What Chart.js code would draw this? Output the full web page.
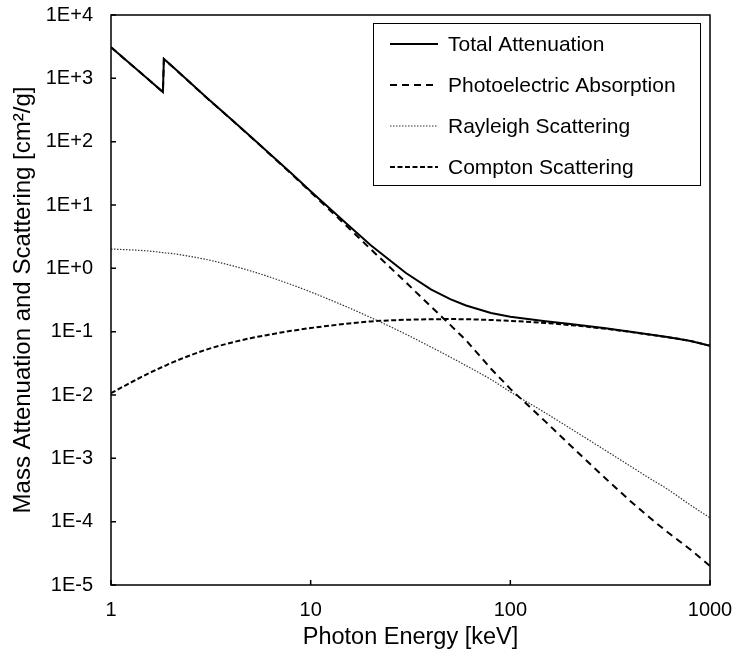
<!DOCTYPE html>
<html lang="en">
<head>
<meta charset="UTF-8">
<title>Mass Attenuation and Scattering</title>
<script src="https://cdn.jsdelivr.net/npm/chart.js@4"></script>
<style>
  body { margin: 0; background: #fff; }
  #chartBox { width: 736px; height: 659px; }
</style>
</head>
<body>
<div id="chartBox"><canvas id="attenChart" width="736" height="659"></canvas></div>
<script>
// photon energy in keV (the 1.82 / 1.84 pair is the absorption edge)
const energies = [1, 1.5, 1.82, 1.84, 2, 3, 4, 5, 6, 8, 10, 15, 20, 30, 40, 50, 60, 80, 100, 150, 200, 300, 400, 500, 600, 800, 1000];

// cm2/g
const totalAtten = [3092, 1032, 608, 2020, 1602, 501, 226, 121, 71.9, 31.7, 16.5, 5.18, 2.31, 0.845, 0.464, 0.326, 0.259, 0.197, 0.172, 0.146, 0.1316, 0.1128, 0.100, 0.0901, 0.0829, 0.0714, 0.0599];
const photoAbs = [3090, 1030, 606, 2018, 1600, 500, 225, 120, 71, 31, 16, 4.8, 2.0, 0.6, 0.25, 0.128, 0.073, 0.026, 0.0125, 0.0038, 0.0016, 0.00048, 0.00021, 0.000115, 0.000072, 0.000036, 0.00002];
const rayleighScat = [2.02, 1.89, 1.77, 1.76, 1.72, 1.38, 1.11, 0.91, 0.76, 0.554, 0.424, 0.25, 0.167, 0.091, 0.0574, 0.0397, 0.0291, 0.0176, 0.0112, 0.0052, 0.00296, 0.00133, 0.00075, 0.00048, 0.00034, 0.000182, 0.000115];
const comptonScat = [0.0107, 0.021, 0.028, 0.0284, 0.032, 0.052, 0.067, 0.079, 0.088, 0.103, 0.114, 0.133, 0.145, 0.154, 0.157, 0.158, 0.157, 0.153, 0.148, 0.137, 0.127, 0.111, 0.099, 0.0895, 0.0825, 0.0712, 0.0598];

const seriesNames = ['Total Attenuation', 'Photoelectric Absorption', 'Rayleigh Scattering', 'Compton Scattering'];

const xTicks = [1, 10, 100, 1000];
const yTicks = [1e-5, 1e-4, 1e-3, 1e-2, 1e-1, 1e0, 1e1, 1e2, 1e3, 1e4];
const yTickLabels = ['1E-5', '1E-4', '1E-3', '1E-2', '1E-1', '1E+0', '1E+1', '1E+2', '1E+3', '1E+4'];

const toPoints = vals => energies.map((e, i) => ({ x: e, y: vals[i] }));

Chart.defaults.font.family = 'Arial, "Liberation Sans", sans-serif';
Chart.defaults.color = '#000';

// keep the plot box where the layout padding puts it
const noLabelPadding = s => {
  s.paddingLeft = 0; s.paddingRight = 0; s.paddingTop = 0; s.paddingBottom = 0;
};

// plot frame, inward ticks and the boxed legend inside the plot
const frameAndLegend = {
  id: 'frameAndLegend',
  afterDatasetsDraw(chart) {
    const ctx = chart.ctx;
    const area = chart.chartArea;
    const xs = chart.scales.x, ys = chart.scales.y;
    ctx.save();
    ctx.strokeStyle = '#000';
    ctx.lineWidth = 1.5;
    ctx.setLineDash([]);
    ctx.strokeRect(area.left, area.top, area.right - area.left, area.bottom - area.top);
    ctx.beginPath();
    xTicks.forEach(v => {
      const px = xs.getPixelForValue(v);
      ctx.moveTo(px, area.bottom);
      ctx.lineTo(px, area.bottom - 5);
    });
    yTicks.forEach(v => {
      const py = ys.getPixelForValue(v);
      ctx.moveTo(area.left, py);
      ctx.lineTo(area.left + 5, py);
    });
    ctx.stroke();

    const bx = area.left + 262, by = area.top + 8, bw = 327, bh = 162;
    ctx.fillStyle = '#fff';
    ctx.fillRect(bx, by, bw, bh);
    ctx.lineWidth = 1;
    ctx.strokeRect(bx + 0.5, by + 0.5, bw, bh);
    ctx.font = '21px Arial, "Liberation Sans", sans-serif';
    ctx.textBaseline = 'middle';
    ctx.textAlign = 'left';
    chart.data.datasets.forEach((ds, i) => {
      const ry = by + 21 + i * 41;
      ctx.beginPath();
      ctx.strokeStyle = ds.borderColor;
      ctx.lineWidth = ds.borderWidth;
      ctx.setLineDash(ds.borderDash || []);
      ctx.moveTo(bx + 17, ry);
      ctx.lineTo(bx + 65, ry);
      ctx.stroke();
      ctx.setLineDash([]);
      ctx.fillStyle = '#000';
      ctx.fillText(ds.label, bx + 75, ry + 1);
    });
    ctx.restore();
  }
};

new Chart(document.getElementById('attenChart'), {
  type: 'scatter',
  data: {
    datasets: [
      { label: seriesNames[0], data: toPoints(totalAtten), borderColor: '#000', borderWidth: 2, borderDash: [], tension: 0 },
      { label: seriesNames[1], data: toPoints(photoAbs), borderColor: '#000', borderWidth: 2, borderDash: [7, 5], tension: 0 },
      { label: seriesNames[2], data: toPoints(rayleighScat), borderColor: '#333', borderWidth: 1.2, borderDash: [1.5, 1.5], cubicInterpolationMode: 'monotone' },
      { label: seriesNames[3], data: toPoints(comptonScat), borderColor: '#000', borderWidth: 2, borderDash: [5, 2.5], cubicInterpolationMode: 'monotone' }
    ].map(ds => Object.assign(ds, {
      showLine: true,
      pointRadius: 0,
      pointHoverRadius: 0,
      fill: false
    }))
  },
  options: {
    responsive: false,
    animation: false,
    events: [],
    layout: { padding: { left: 0, right: 26, top: 15, bottom: 0 } },
    plugins: {
      legend: { display: false },
      tooltip: { enabled: false }
    },
    scales: {
      x: {
        type: 'logarithmic',
        min: 1,
        max: 1000,
        grid: { display: false, drawTicks: false },
        border: { display: false },
        afterBuildTicks: s => { s.ticks = xTicks.map(v => ({ value: v })); },
        afterFit: s => { s.height = 74; noLabelPadding(s); },
        ticks: {
          padding: 13,
          maxRotation: 0,
          font: { size: 20 },
          callback: v => String(v)
        },
        title: {
          display: true,
          text: 'Photon Energy [keV]',
          font: { size: 23.5 },
          padding: { top: 0, bottom: 7 }
        }
      },
      y: {
        type: 'logarithmic',
        min: 1e-5,
        max: 1e4,
        grid: { display: false, drawTicks: false },
        border: { display: false },
        afterBuildTicks: s => { s.ticks = yTicks.map(v => ({ value: v })); },
        afterFit: s => { s.width = 111; noLabelPadding(s); },
        ticks: {
          padding: 18,
          font: { size: 20 },
          callback: v => yTickLabels[yTicks.findIndex(t => Math.abs(Math.log10(t) - Math.log10(v)) < 1e-6)]
        },
        title: {
          display: true,
          text: 'Mass Attenuation and Scattering [cm²/g]',
          font: { size: 24 },
          padding: { top: 9, bottom: 0 }
        }
      }
    }
  },
  plugins: [frameAndLegend]
});
</script>
</body>
</html>
